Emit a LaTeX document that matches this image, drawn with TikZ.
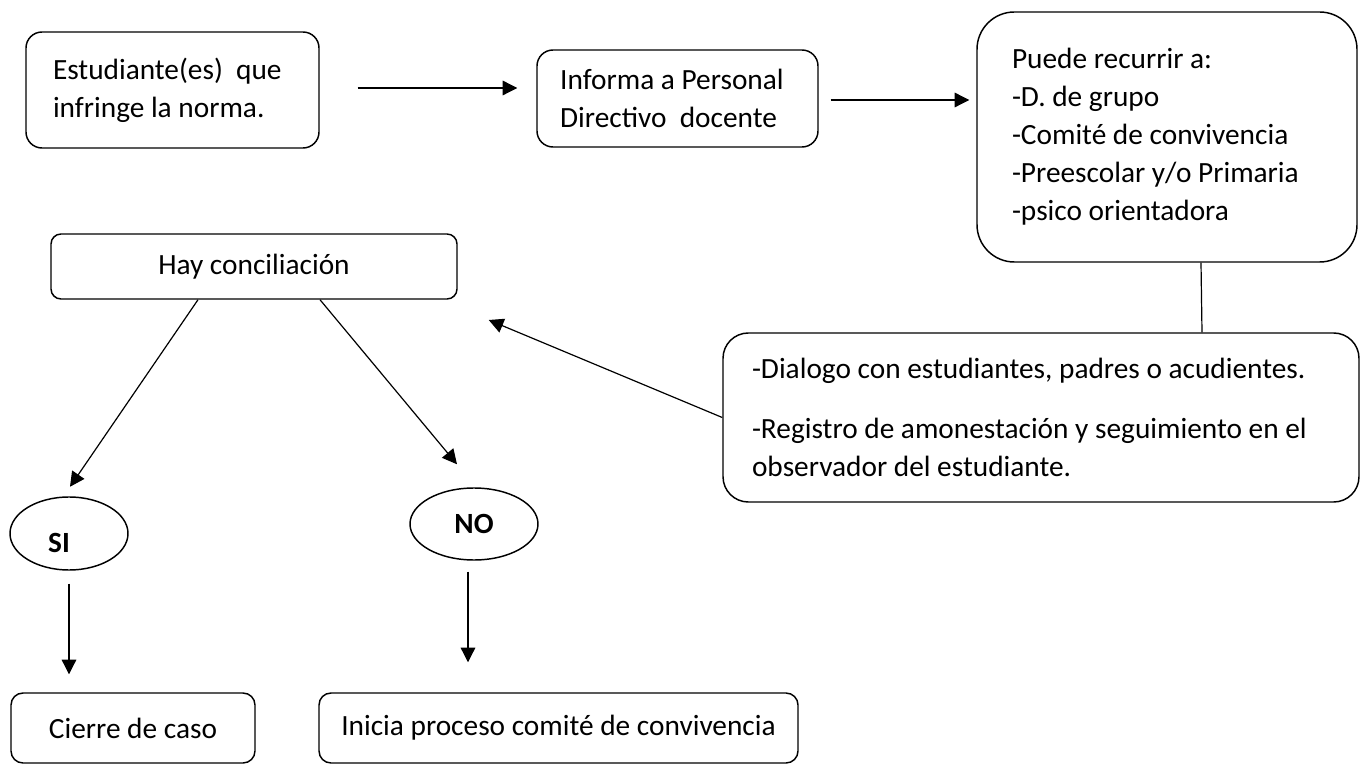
\documentclass[tikz,border=0pt]{standalone}
\usepackage{fontspec}
\setmainfont{Carlito}
\usetikzlibrary{shapes.geometric, arrows.meta, calc}

\newcommand{\letra}{\fontsize{22}{28.5}\selectfont}
\tikzset{
	caja/.style={draw, line width=1.1pt, align=flush left, inner sep=0pt},
	flecha/.style={line width=0.9pt, -{Triangle[length=11pt,width=11pt]}},
	ovalo/.style={draw, ellipse, line width=1.1pt, inner sep=0pt, font=\letra\bfseries},
}

\begin{document}
\begin{tikzpicture}[x=0.75pt, y=-0.75pt, font=\letra]
	\useasboundingbox (0,0) rectangle (1360,766);
	% fila de arriba
	\node[caja, rounded corners=12pt, minimum width=219.75pt, minimum height=87pt, text width=179.25pt] (estudiante) at (172.5,90) {Estudiante(es)\ \ que\\infringe la norma.};
	\node[caja, rounded corners=12pt, minimum width=210.75pt, minimum height=72.75pt, text width=176pt] (informa) at (677.5,98.5) {Informa a Personal\\Directivo\ \ docente};
	\node[caja, rounded corners=28pt, minimum width=285pt, minimum height=187.5pt, text width=232.5pt] (recurrir) at (1167,137) {Puede recurrir a:\\-D. de grupo\\-Comité de convivencia\\-Preescolar y/o Primaria\\-psico orientadora};
	\node[caja, rounded corners=19pt, minimum width=477pt, minimum height=126.75pt, text width=433.5pt] (acciones) at (1041,417.5) {-Dialogo con estudiantes, padres o acudientes.\\[16.5pt]-Registro de amonestación y seguimiento en el\\observador del estudiante.};
	% conciliacion
	\node[caja, rounded corners=7.5pt, align=center, minimum width=304.5pt, minimum height=48.75pt] (conciliacion) at (254,266.5) {Hay conciliación};
	\node[ovalo, minimum width=88.5pt, minimum height=54.75pt, label={[name=silbl, font=\letra\bfseries, xshift=-7.5pt, yshift=-6.75pt]center:SI}] (si) at (69,533.5) {};
	\node[ovalo, minimum width=96pt, minimum height=54pt] (no) at (474,524) {NO};
	% fila de abajo
	\node[caja, rounded corners=9pt, align=center, minimum width=183pt, minimum height=52.5pt] (cierre) at (133,728) {Cierre de caso};
	\node[caja, rounded corners=9pt, align=center, minimum width=359.25pt, minimum height=52.5pt] (inicia) at (558.5,728) {Inicia proceso comité de convivencia};
	% flechas
	\draw[flecha] ($(estudiante.east)+(38,-2)$) -- ($(informa.west)+(-19,-10.5)$);
	\draw[flecha] ($(informa.east)+(12,1.5)$) -- ($(recurrir.west)+(-7,-37)$);
	\draw[line width=0.9pt] ($(recurrir.south)+(34,0)$) -- ($(acciones.north)+(161,0)$);
	\draw[flecha] (acciones.west) -- ($(conciliacion.east)+(31,53.5)$);
	\draw[flecha] ($(conciliacion.south)+(-56,0)$) -- ($(si.north)+(1,-9.5)$);
	\draw[flecha] ($(conciliacion.south)+(66,0)$) -- ($(no.north)+(-17,-23)$);
	\draw[flecha] ($(si.south)+(0,13)$) -- ($(cierre.north)+(-64,-18)$);
	\draw[flecha] ($(no.south)+(-6,11)$) -- ($(inicia.north)+(-90.5,-30)$);
\end{tikzpicture}
\end{document}
